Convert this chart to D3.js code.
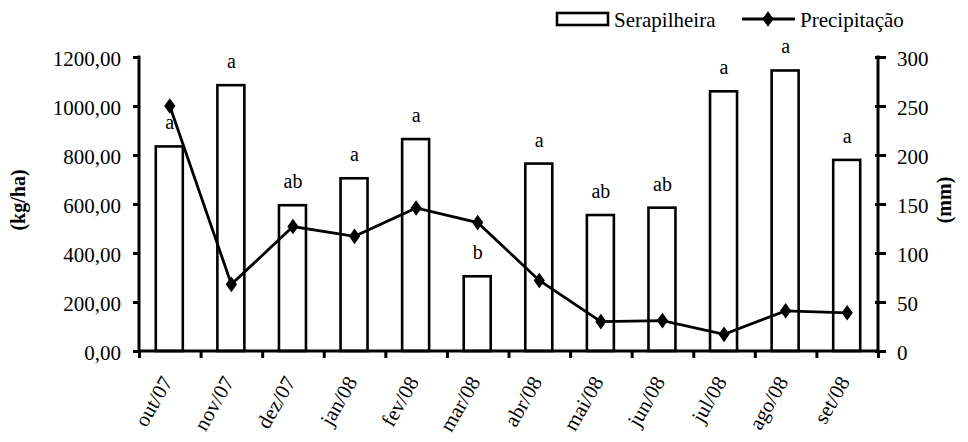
<!DOCTYPE html>
<html><head><meta charset="utf-8">
<style>
body{margin:0;background:#fff;font-family:"Liberation Serif","Times New Roman",serif;}
svg text{font-family:"Liberation Serif","Times New Roman",serif;}
</style>
<script src="https://cdn.jsdelivr.net/npm/d3@7"></script>
</head>
<body><svg id="c" width="968" height="442" font-family="Liberation Serif, Times New Roman, serif"></svg>
<script>
const months = ["out/07","nov/07","dez/07","jan/08","fev/08","mar/08","abr/08","mai/08","jun/08","jul/08","ago/08","set/08"];
const serapilheira = [835,1085,595,705,865,305,765,555,585,1060,1145,780];
const precipitacao = [250,68,127,117,146,131,72,30,31,17,41,39];
const letters = ["a","a","ab","a","a","b","a","ab","ab","a","a","a"];
const leftTicks = [0,200,400,600,800,1000,1200];
const rightTicks = [0,50,100,150,200,250,300];
const seriesNames = ["Serapilheira","Precipitação"];

const svg = d3.select("#c");
const L=139, R=878, T=57, B=351;
const x = d3.scaleBand().domain(months).range([L,R]).paddingInner(0).paddingOuter(0);
const yL = d3.scaleLinear().domain([0,1200]).range([B,T]);
const yR = d3.scaleLinear().domain([0,300]).range([B,T]);
const barW = 27;

svg.append("g").selectAll("rect").data(months).join("rect")
  .attr("x",d=>x(d)+x.bandwidth()/2-barW/2-0.5)
  .attr("y",(d,i)=>yL(serapilheira[i]))
  .attr("width",barW)
  .attr("height",(d,i)=>B-yL(serapilheira[i]))
  .attr("fill","#fff").attr("stroke","#000").attr("stroke-width",2.6);

svg.append("g").selectAll("text").data(months).join("text")
  .attr("x",d=>x(d)+x.bandwidth()/2)
  .attr("y",(d,i)=>yL(serapilheira[i])-17)
  .attr("text-anchor","middle").attr("font-size",20)
  .text((d,i)=>letters[i]);

const line = d3.line().x((d,i)=>x(months[i])+x.bandwidth()/2).y(d=>yR(d));
svg.append("path").datum(precipitacao).attr("d",line)
  .attr("fill","none").attr("stroke","#000").attr("stroke-width",2.8);
const diamond = d3.symbol().type(d3.symbolDiamond).size(70);
svg.append("g").selectAll("path").data(precipitacao).join("path")
  .attr("d",diamond)
  .attr("transform",(d,i)=>`translate(${x(months[i])+x.bandwidth()/2},${yR(d)}) scale(1.25,1)`)
  .attr("fill","#000");

const axL = svg.append("g").attr("transform",`translate(${L},0)`)
  .call(d3.axisLeft(yL).tickValues(leftTicks).tickSize(6).tickPadding(12)
    .tickFormat(d=>d3.format(".2f")(d).replace(".",",")));
const axR = svg.append("g").attr("transform",`translate(${R},0)`)
  .call(d3.axisRight(yR).tickValues(rightTicks).tickSize(8).tickPadding(11));
const boundaries = months.map(m=>x(m)).concat([R]);
const axX = svg.append("g").attr("transform",`translate(0,${B})`)
  .call(d3.axisBottom(d3.scaleLinear().domain([L,R]).range([L,R])).tickValues(boundaries).tickSize(7).tickFormat(""));
[axL,axR,axX].forEach(g=>{
  g.attr("font-family",null).attr("font-size",null);
  g.select(".domain").attr("stroke","#000").attr("stroke-width",3);
  g.selectAll(".tick line").attr("stroke","#000").attr("stroke-width",3);
  g.selectAll(".tick text").attr("font-size",21).attr("fill","#000").attr("dy","0.42em");
});
axL.select(".domain").attr("d",`M0,${T-1.5}V${B+1.5}`);
axR.select(".domain").attr("d",`M0,${T-1.5}V${B+1.5}`);
axX.select(".domain").attr("d",`M${L},0H${R}`);
axR.selectAll(".tick line").attr("x1",-3);

svg.append("g").selectAll("text").data(months).join("text")
  .attr("transform",d=>`translate(${x(d)+x.bandwidth()/2-3},${B+27}) rotate(-60)`)
  .attr("text-anchor","end").attr("dy","0.35em").attr("font-size",21)
  .text(d=>d);

svg.append("text").attr("transform",`translate(25,200) rotate(-90)`)
  .attr("text-anchor","middle").attr("font-size",20).attr("font-weight","bold").text("(kg/ha)");
svg.append("text").attr("transform",`translate(951,200) rotate(-90)`)
  .attr("text-anchor","middle").attr("font-size",20).attr("font-weight","bold").text("(mm)");

const lg = svg.append("g");
lg.append("rect").attr("x",557).attr("y",13).attr("width",51).attr("height",12)
  .attr("fill","#fff").attr("stroke","#000").attr("stroke-width",2.6);
lg.append("text").attr("x",614).attr("y",27).attr("font-size",21).text(seriesNames[0]);
lg.append("line").attr("x1",742).attr("x2",795).attr("y1",19).attr("y2",19).attr("stroke","#000").attr("stroke-width",2.8);
lg.append("path").attr("d",diamond).attr("transform","translate(768,19) scale(1.25,1)").attr("fill","#000");
lg.append("text").attr("x",800).attr("y",27).attr("font-size",21).text(seriesNames[1]);

svg.selectAll("text").attr("fill","#000");
</script></body></html>
